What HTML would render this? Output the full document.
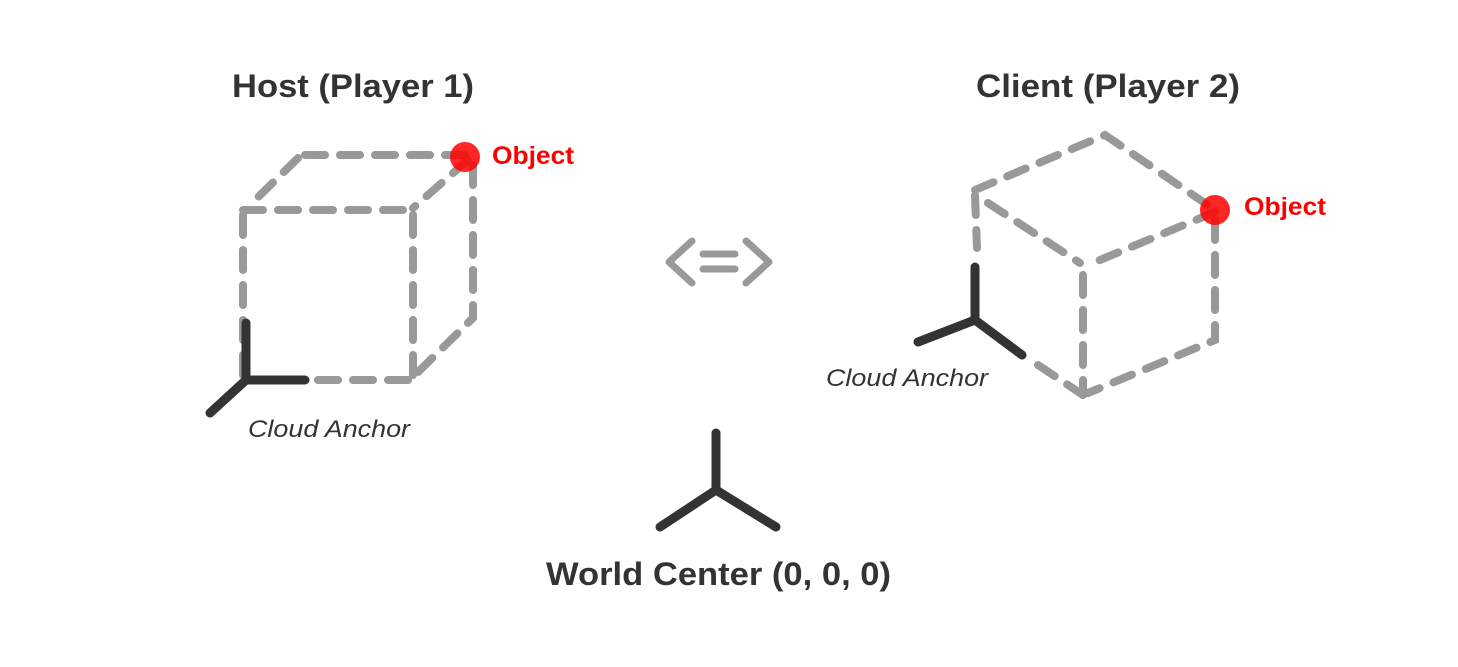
<!DOCTYPE html>
<html><head><meta charset="utf-8"><style>
html,body{margin:0;padding:0;background:#fff;}
svg{display:block}
text{font-family:"Liberation Sans",sans-serif;}
</style></head><body>
<svg width="1458" height="667" viewBox="0 0 1458 667" xmlns="http://www.w3.org/2000/svg">
<g fill="none" stroke="#999" stroke-width="8" stroke-linecap="round" stroke-dasharray="20 15">
  <path d="M243 210 L413 210"/>
  <path d="M243 215 L243 380"/>
  <path d="M413 215 L413 378"/>
  <path d="M318 380 L413 380"/>
  <path d="M305 155 L468 155"/>
  <path d="M298 158 L250 205"/>
  <path d="M468 160 L413 208"/>
  <path d="M473 165 L473 318 L415 375"/>
  <path d="M975 190 L1105 135 L1215 210"/>
  <path d="M988 203 L1080 263"/>
  <path d="M1215 212 L1088 265"/>
  <path d="M975 195 L977 248"/>
  <path d="M1083 275 L1083 395"/>
  <path d="M1215 220 L1215 340 L1088 393"/>
  <path d="M1038 365 L1083 395"/>
</g>
<g fill="none" stroke="#999" stroke-width="7" stroke-linecap="round" stroke-linejoin="round">
  <path d="M692 241 L669 262 L692 283"/>
  <path d="M703 254 L735 254 M703 269 L735 269"/>
  <path d="M746 241 L769 262 L746 283"/>
</g>
<g fill="none" stroke="#333" stroke-width="9" stroke-linecap="round">
  <path d="M246 323 L246 380 L305 380 M246 380 L210 413"/>
  <path d="M975 267 L975 320 L918 342 M975 320 L1022 355"/>
  <path d="M716 433 L716 490 L660 527 M716 490 L776 527"/>
</g>
<circle cx="465" cy="157" r="15" fill="#f00" fill-opacity="0.85"/>
<circle cx="1215" cy="210" r="15" fill="#f00" fill-opacity="0.85"/>
<g fill="#333" font-weight="bold" font-size="32">
  <text x="232" y="97" textLength="242" lengthAdjust="spacingAndGlyphs">Host (Player 1)</text>
  <text x="976" y="97" textLength="264" lengthAdjust="spacingAndGlyphs">Client (Player 2)</text>
  <text x="546" y="585" textLength="345" lengthAdjust="spacingAndGlyphs">World Center (0, 0, 0)</text>
</g>
<g fill="#f00" font-weight="bold" font-size="25">
  <text x="492" y="164" textLength="82" lengthAdjust="spacingAndGlyphs">Object</text>
  <text x="1244" y="215" textLength="82" lengthAdjust="spacingAndGlyphs">Object</text>
</g>
<g fill="#333" font-style="italic" font-size="24">
  <text x="248" y="437" textLength="162" lengthAdjust="spacingAndGlyphs">Cloud Anchor</text>
  <text x="826" y="386" textLength="162" lengthAdjust="spacingAndGlyphs">Cloud Anchor</text>
</g>
</svg>
</body></html>
